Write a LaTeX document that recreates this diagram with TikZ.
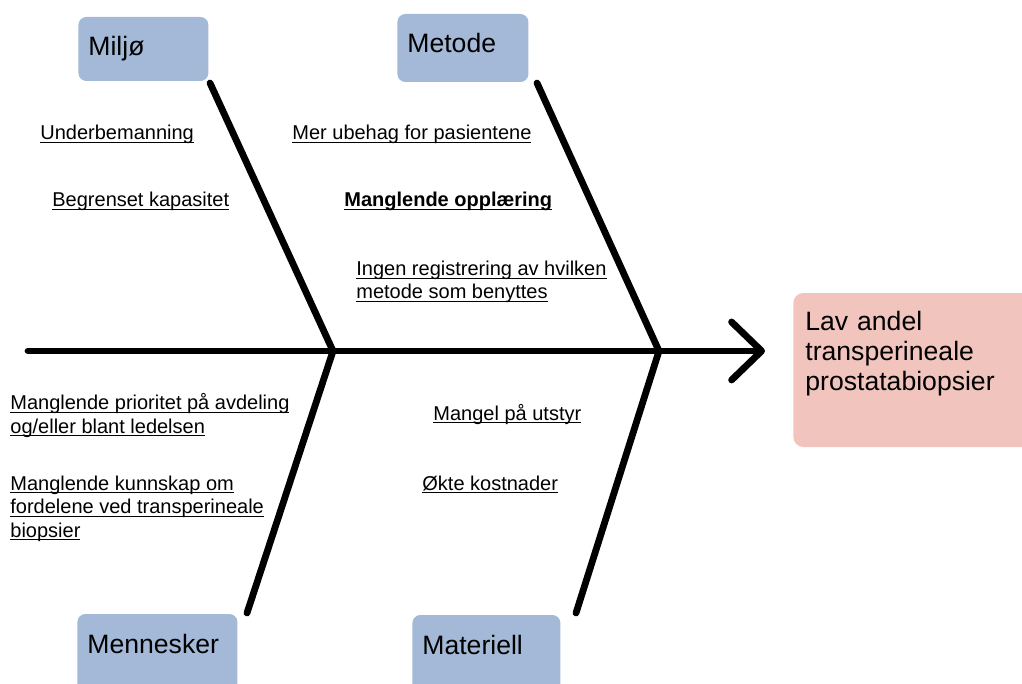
\documentclass[tikz,border=0pt]{standalone}
\usepackage{fontspec}
\setmainfont{Liberation Sans}
\usetikzlibrary{arrows.meta}

\definecolor{catblue}{RGB}{163,185,215}
\definecolor{effectpink}{RGB}{242,196,190}

\newcommand{\ulab}[1]{\underline{\smash{#1}}}

\tikzset{
    cause/.style={anchor=base west, inner sep=0pt, align=left, font=\fontsize{10pt}{11.75pt}\selectfont},
    category/.style={anchor=base west, fill=catblue, rounded corners=4pt, inner xsep=5pt, inner ysep=0pt, align=left, text height=19.5pt, font=\fontsize{13.3pt}{15pt}\selectfont},
    bone/.style={line width=3.4pt, line cap=round},
}

\begin{document}
\begin{tikzpicture}[x=0.5pt, y=-0.5pt]
    \useasboundingbox (0,0) rectangle (1022,684);
    \clip (0,0) rectangle (1022,684);

    % kategorier
    \node[category, text width=55pt, text depth=12.5pt] (miljo) at (78,56) {Miljø};
    \node[category, text width=55.5pt, text depth=14.5pt] (metode) at (397,53) {Metode};
    \node[category, text width=70pt, text depth=25pt] (mennesker) at (77,653) {Mennesker};
    \node[category, text width=64pt, text depth=25pt] (materiell) at (412,654) {Materiell};

    % problem
    \node[category, fill=effectpink, rounded corners=5pt, inner xsep=6pt, text width=140pt,
          text height=18.5pt, text depth=58.5pt] (effekt) at (793,330)
          {Lav andel\\transperineale\\prostatabiopsier};

    % ryggrad og bein
    \coordinate (tail) at (28,351);
    \coordinate (head) at (765,351);
    \coordinate (j1) at (333,351);
    \coordinate (j2) at (659,351);
    \coordinate (miljobone) at (210,83);
    \coordinate (metodebone) at (537,83);
    \coordinate (menneskerbone) at (247,613);
    \coordinate (materiellbone) at (576,613);

    \draw[bone, -{Straight Barb[length=15pt, width=29pt, line cap=round, line join=round]}] (tail) -- (head);
    \draw[bone] (miljobone) -- (j1) -- (menneskerbone);
    \draw[bone] (metodebone) -- (j2) -- (materiellbone);

    % årsaker
    \node[cause] (underbemanning) at (40,140) {\ulab{Underbemanning}};
    \node[cause] (kapasitet) at (52,207) {\ulab{Begrenset kapasitet}};
    \node[cause] (ubehag) at (292,140) {\ulab{Mer ubehag for pasientene}};
    \node[cause, font=\fontsize{10pt}{11.75pt}\selectfont\bfseries] (opplaering) at (344,207) {\ulab{Manglende opplæring}};
    \node[cause] (registrering) at (356,299) {\ulab{Ingen registrering av hvilken}\\\ulab{metode som benyttes}};
    \node[cause] (prioritet) at (10,433) {\ulab{Manglende prioritet på avdeling}\\\ulab{og/eller blant ledelsen}};
    \node[cause] (kunnskap) at (10,537) {\ulab{Manglende kunnskap om}\\\ulab{fordelene ved transperineale}\\\ulab{biopsier}};
    \node[cause] (utstyr) at (433,420) {\ulab{Mangel på utstyr}};
    \node[cause] (kostnader) at (422,490) {\ulab{Økte kostnader}};
\end{tikzpicture}
\end{document}
